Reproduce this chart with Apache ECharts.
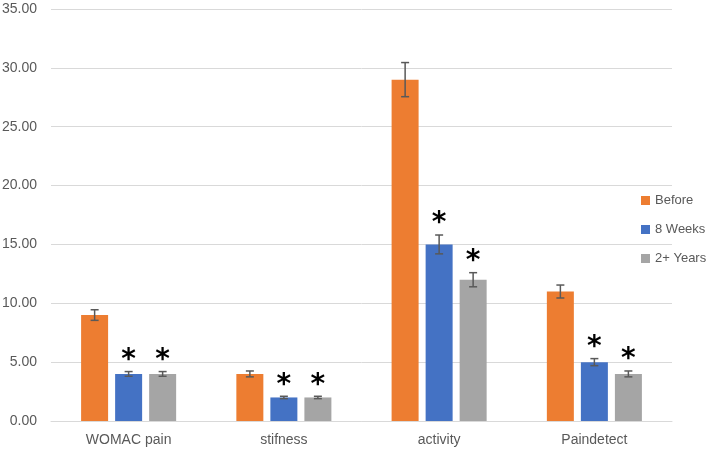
<!DOCTYPE html>
<html>
<head>
<meta charset="utf-8">
<script src="https://cdn.jsdelivr.net/npm/echarts@6/dist/echarts.min.js"></script>
<style>
  html, body { margin: 0; padding: 0; background: #fff; }
  #chart { width: 709px; height: 452px; }
</style>
</head>
<body>
<div id="chart"></div>
<script>
  const categories = ['WOMAC pain', 'stifness', 'activity', 'Paindetect'];
  const seriesNames = ['Before', '8 Weeks', '2+ Years'];
  const before = [9, 4, 29, 11];
  const weeks8 = [4, 2, 15, 5];
  const years2 = [4, 2, 12, 4];
  const beforeErr = [0.45, 0.25, 1.45, 0.55];
  const weeks8Err = [0.2, 0.1, 0.8, 0.3];
  const years2Err = [0.2, 0.1, 0.6, 0.25];
  // 1 = significant (asterisk above)
  const beforeStar = [0, 0, 0, 0];
  const weeks8Star = [1, 1, 1, 1];
  const years2Star = [1, 1, 1, 1];

  const colors = ['#ED7D31', '#4472C4', '#A5A5A5'];
  const barW = 27;
  const step = 34; // bar width + gap

  function errSeries(vals, errs, stars, offset) {
    return {
      type: 'custom',
      silent: true,
      z: 5,
      data: vals.map((v, i) => [i, v, errs[i], stars[i]]),
      renderItem: function (params, api) {
        const cat = api.value(0), val = api.value(1), err = api.value(2), star = api.value(3);
        const x = api.coord([cat, val])[0] + offset;
        const top = api.coord([cat, val + err])[1];
        const bot = api.coord([cat, val - err])[1];
        const st = { stroke: '#595959', lineWidth: 1.5 };
        const children = [
          { type: 'line', shape: { x1: x, y1: top, x2: x, y2: bot }, style: st },
          { type: 'line', shape: { x1: x - 4, y1: top, x2: x + 4, y2: top }, style: st },
          { type: 'line', shape: { x1: x - 4, y1: bot, x2: x + 4, y2: bot }, style: st }
        ];
        if (star) {
          children.push({
            type: 'text',
            style: {
              text: '*', x: x, y: top - 25,
              align: 'center', verticalAlign: 'top',
              font: 'bold 28px "DejaVu Sans"', fill: '#000'
            }
          });
        }
        return { type: 'group', children: children };
      }
    };
  }

  const chart = echarts.init(document.getElementById('chart'));
  chart.setOption({
    animation: false,
    grid: { left: 51, right: 37, top: 9, bottom: 31, outerBoundsMode: 'none', containLabel: false },
    legend: {
      data: seriesNames,
      orient: 'vertical',
      left: 636,
      top: 189,
      icon: 'rect',
      itemWidth: 9,
      itemHeight: 9,
      itemGap: 16,
      textStyle: { fontSize: 13, color: '#595959', fontFamily: 'Liberation Sans' }
    },
    xAxis: {
      type: 'category',
      data: categories,
      axisTick: { show: false },
      axisLine: { lineStyle: { color: '#D9D9D9' } },
      axisLabel: { fontSize: 14, color: '#595959', margin: 12, fontFamily: 'Liberation Sans' }
    },
    yAxis: {
      type: 'value',
      min: 0,
      max: 35,
      interval: 5,
      axisLabel: {
        fontSize: 14, color: '#595959', margin: 14, fontFamily: 'Liberation Sans',
        formatter: v => v.toFixed(2)
      },
      splitLine: { lineStyle: { color: '#D9D9D9' } }
    },
    series: [
      { name: seriesNames[0], type: 'bar', data: before, barWidth: barW, barGap: '26%', itemStyle: { color: colors[0] } },
      { name: seriesNames[1], type: 'bar', data: weeks8, barWidth: barW, barGap: '26%', itemStyle: { color: colors[1] } },
      { name: seriesNames[2], type: 'bar', data: years2, barWidth: barW, barGap: '26%', itemStyle: { color: colors[2] } },
      errSeries(before, beforeErr, beforeStar, -step),
      errSeries(weeks8, weeks8Err, weeks8Star, 0),
      errSeries(years2, years2Err, years2Star, step)
    ]
  });
</script>
</body>
</html>
